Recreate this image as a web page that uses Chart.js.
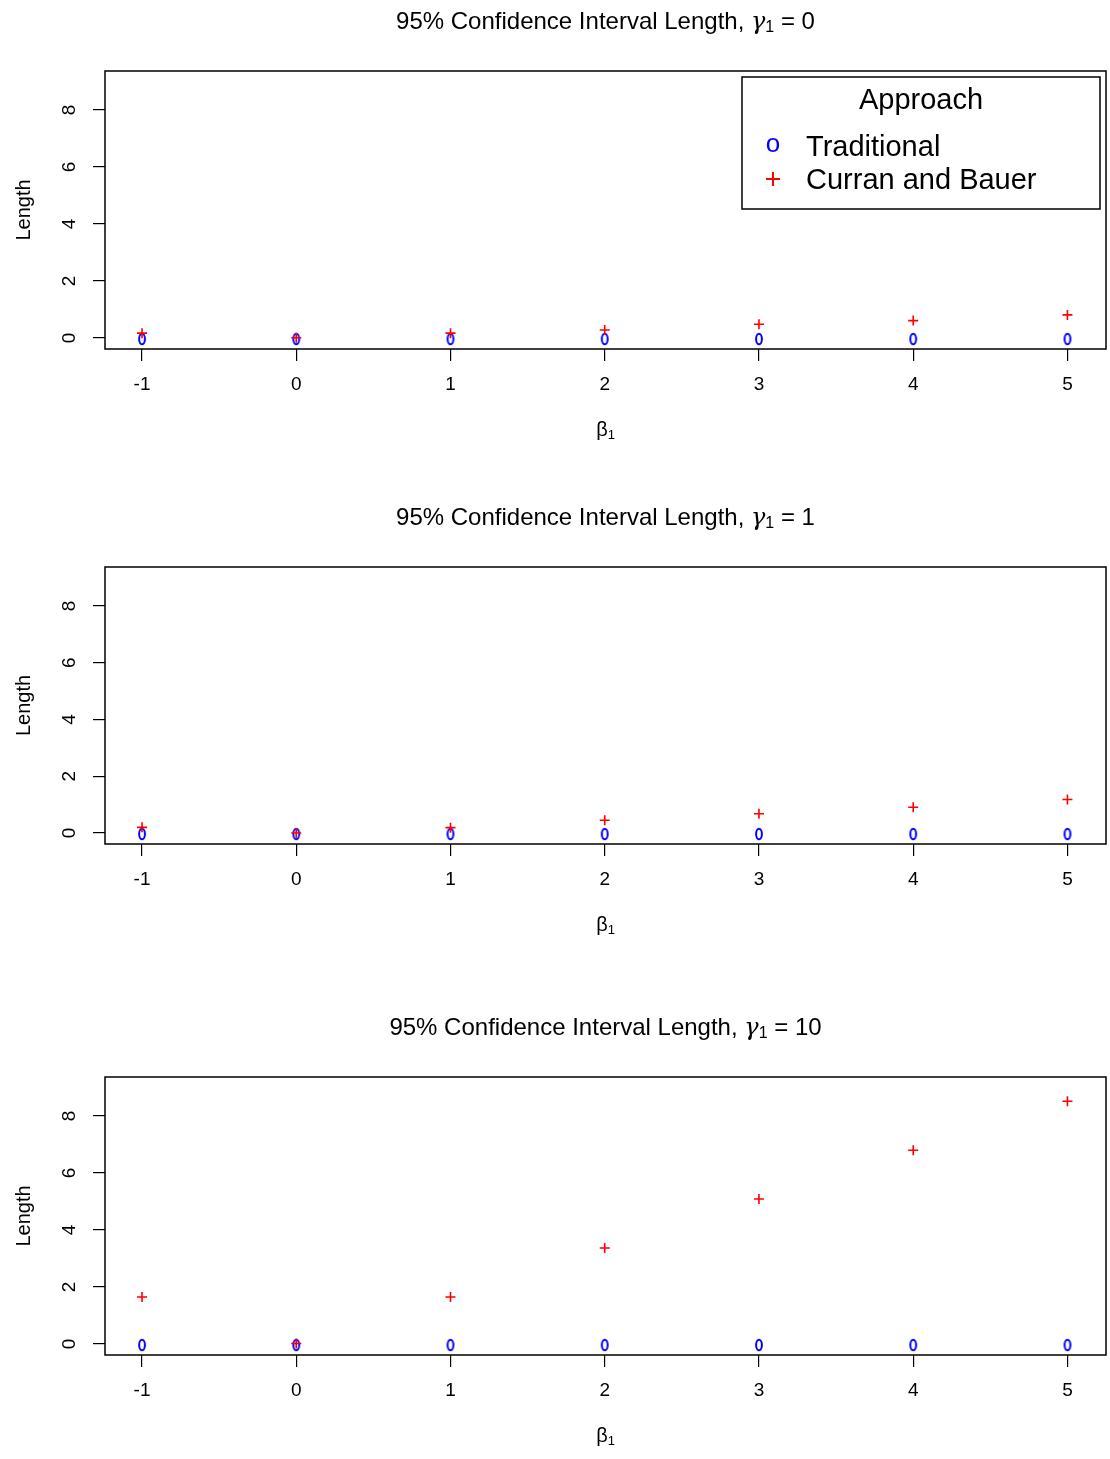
<!DOCTYPE html>
<html>
<head>
<meta charset="utf-8">
<script src="https://cdn.jsdelivr.net/npm/chart.js@4.4.1/dist/chart.umd.min.js"></script>
<style>
  body { margin: 0; background: #fff; }
  #wrap { position: relative; width: 1110px; height: 1459px; overflow: hidden; background: #fff; }
  #wrap canvas { position: absolute; left: 0; }
</style>
</head>
<body>
<div id="wrap"></div>
<script>
// data
const betaValues = [-1, 0, 1, 2, 3, 4, 5];
const gammaLabels = ["0", "1", "10"];
const traditionalG0 = [0, 0, 0, 0, 0, 0, 0];
const traditionalG1 = [0, 0, 0, 0, 0, 0, 0];
const traditionalG10 = [0, 0, 0, 0, 0, 0, 0];
const curranG0 = [0.17, 0.01, 0.17, 0.28, 0.48, 0.61, 0.81];
const curranG1 = [0.20, 0.00, 0.19, 0.45, 0.68, 0.91, 1.18];
const curranG10 = [1.65, 0.02, 1.65, 3.37, 5.09, 6.80, 8.52];
const yTicks = [0, 2, 4, 6, 8];
const xTicks = [-1, 0, 1, 2, 3, 4, 5];
const legendTitle = "Approach";
const seriesNames = ["Traditional", "Curran and Bauer"];

const FONT = "'Liberation Sans', Arial, sans-serif";

// blue "0" marker like R's pch = "o"
function makeOMarker() {
    const c = document.createElement("canvas");
    c.width = 10; c.height = 16;
    const g = c.getContext("2d");
    g.strokeStyle = "#0000ff";
    g.lineWidth = 2;
    g.beginPath();
    g.ellipse(5, 9, 2.9, 5.2, 0, 0, Math.PI * 2);
    g.stroke();
    return c;
}
const oMarker = makeOMarker();

const panels = [
    { top: 0, height: 490, boxH: 278, gamma: gammaLabels[0], trad: traditionalG0, cb: curranG0, legend: true },
    { top: 496, height: 510, boxH: 277, gamma: gammaLabels[1], trad: traditionalG1, cb: curranG1, legend: false },
    { top: 1006, height: 453, boxH: 278, gamma: gammaLabels[2], trad: traditionalG10, cb: curranG10, legend: false }
];

const decorPlugin = {
    id: "decor",
    afterDraw(chart, args, opts) {
        const ctx = chart.ctx;
        const a = chart.chartArea;
        const ys = chart.scales.y;
        const cx = (a.left + a.right) / 2;
        ctx.save();
        // box
        ctx.strokeStyle = "#000";
        ctx.lineWidth = 1.5;
        ctx.strokeRect(a.left, a.top, a.right - a.left, a.bottom - a.top);

        ctx.fillStyle = "#000";
        // title with gamma subscript
        const tFont = "24px " + FONT;
        const sFont = "16px " + FONT;
        const gFont = "italic 24px 'DejaVu Serif', serif";
        const p1 = "95% Confidence Interval Length, ";
        const p2 = "\u03b3";
        const p3 = "1";
        const p4 = " = " + opts.gamma;
        ctx.font = tFont; const w1 = ctx.measureText(p1).width; const w4 = ctx.measureText(p4).width;
        ctx.font = gFont; const w2 = ctx.measureText(p2).width;
        ctx.font = sFont; const w3 = ctx.measureText(p3).width;
        let x = cx - (w1 + w2 + w3 + w4) / 2;
        const ty = a.top - 49;
        ctx.textBaseline = "middle";
        ctx.textAlign = "left";
        ctx.font = tFont; ctx.fillText(p1, x, ty); x += w1;
        ctx.font = gFont; ctx.fillText(p2, x, ty + 1); x += w2;
        ctx.font = sFont; ctx.fillText(p3, x, ty + 6); x += w3;
        ctx.font = tFont; ctx.fillText(p4, x, ty);

        // y tick labels, rotated like R
        ctx.font = "19px " + FONT;
        ctx.textAlign = "center";
        ys.ticks.forEach(t => {
            const py = ys.getPixelForValue(t.value);
            ctx.save();
            ctx.translate(70, py);
            ctx.rotate(-Math.PI / 2);
            ctx.fillText(String(t.value), 0, 0);
            ctx.restore();
        });
        // y title
        ctx.save();
        ctx.translate(24, (a.top + a.bottom) / 2);
        ctx.rotate(-Math.PI / 2);
        ctx.font = "20px " + FONT;
        ctx.fillText("Length", 0, 0);
        ctx.restore();
        // x title beta_1
        ctx.font = "20px " + FONT;
        ctx.textAlign = "left";
        const bw = ctx.measureText("\u03b2").width;
        ctx.font = "13px " + FONT;
        const sw = ctx.measureText("1").width;
        let bx = cx - (bw + sw) / 2;
        const by = a.bottom + 81;
        ctx.font = "20px " + FONT;
        ctx.fillText("\u03b2", bx, by);
        ctx.font = "13px " + FONT;
        ctx.fillText("1", bx + bw, by + 5);

        if (opts.legend) {
            ctx.lineWidth = 1.5;
            ctx.strokeRect(742, 77, 358, 132);
            ctx.font = "29px " + FONT;
            ctx.textAlign = "center";
            ctx.fillText(legendTitle, 921, 101);
            ctx.textAlign = "left";
            ctx.fillText(seriesNames[0], 806, 148);
            ctx.fillText(seriesNames[1], 806, 181);
            ctx.fillStyle = "#0000ff";
            ctx.font = "26px " + FONT;
            ctx.textAlign = "center";
            ctx.fillText("o", 773, 145);
            ctx.strokeStyle = "#ff0000";
            ctx.lineWidth = 2;
            ctx.beginPath();
            ctx.moveTo(766, 179); ctx.lineTo(780, 179);
            ctx.moveTo(773, 172); ctx.lineTo(773, 186);
            ctx.stroke();
        }
        ctx.restore();
    }
};

const wrap = document.getElementById("wrap");
panels.forEach(p => {
    const cv = document.createElement("canvas");
    cv.width = 1110;
    cv.height = p.height;
    cv.style.top = p.top + "px";
    cv.style.width = "1110px";
    cv.style.height = p.height + "px";
    wrap.appendChild(cv);

    new Chart(cv.getContext("2d"), {
        type: "scatter",
        data: {
            datasets: [
                {
                    label: seriesNames[0],
                    data: betaValues.map((b, i) => ({ x: b, y: p.trad[i] })),
                    pointStyle: oMarker,
                    pointRadius: 6,
                    order: 1
                },
                {
                    label: seriesNames[1],
                    data: betaValues.map((b, i) => ({ x: b, y: p.cb[i] })),
                    pointStyle: "cross",
                    pointRadius: 5,
                    borderColor: "#ff0000",
                    borderWidth: 1.6,
                    order: 0
                }
            ]
        },
        options: {
            responsive: false,
            animation: false,
            devicePixelRatio: 1,
            layout: { autoPadding: false, padding: { top: 71, right: 4, left: 0, bottom: 0 } },
            plugins: {
                legend: { display: false },
                tooltip: { enabled: false },
                decor: { gamma: p.gamma, legend: p.legend }
            },
            scales: {
                x: {
                    type: "linear",
                    min: -1.24,
                    max: 5.25,
                    afterBuildTicks: s => { s.ticks = xTicks.map(v => ({ value: v })); },
                    afterFit: s => {
                        s.height = p.height - 71 - p.boxH;
                        s.paddingLeft = 0;
                        s.paddingRight = 0;
                    },
                    border: { display: false },
                    grid: { drawOnChartArea: false, drawTicks: true, tickLength: 12, color: "#000", lineWidth: 1.2 },
                    ticks: { color: "#000", font: { family: FONT, size: 19 }, padding: 12, maxRotation: 0 }
                },
                y: {
                    type: "linear",
                    min: -0.386,
                    max: 9.37,
                    afterBuildTicks: s => { s.ticks = yTicks.map(v => ({ value: v })); },
                    afterFit: s => { s.width = 105; s.paddingTop = 0; s.paddingBottom = 0; },
                    border: { display: false },
                    grid: { drawOnChartArea: false, drawTicks: true, tickLength: 12, color: "#000", lineWidth: 1.2 },
                    ticks: { display: false }
                }
            }
        },
        plugins: [decorPlugin]
    });
});
</script>
</body>
</html>
